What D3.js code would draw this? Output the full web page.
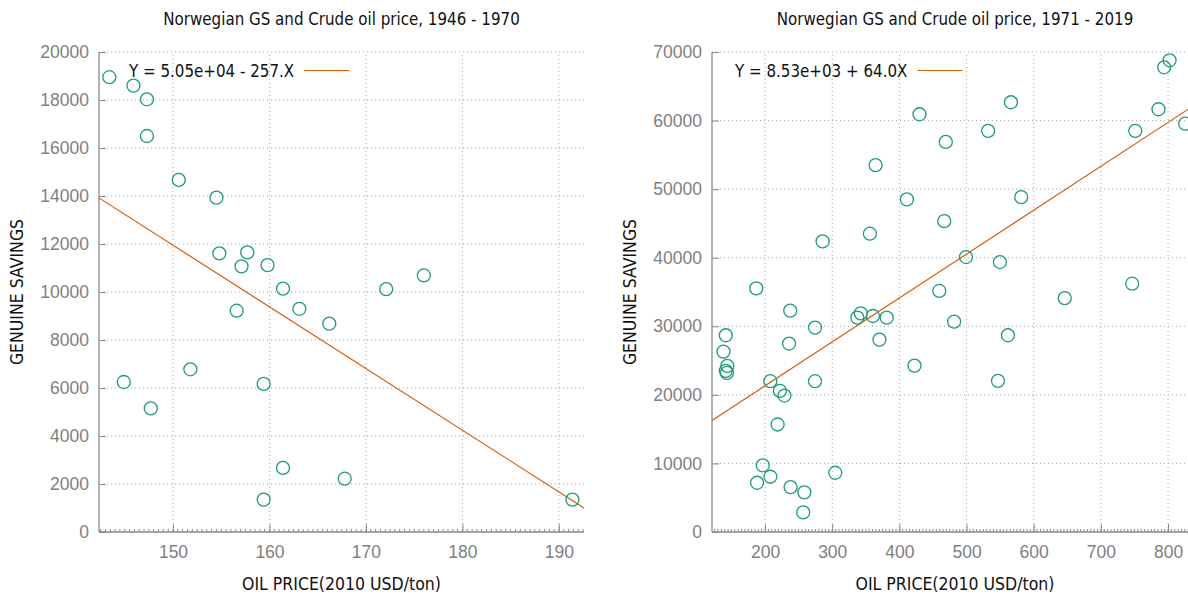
<!DOCTYPE html>
<html>
<head>
<meta charset="utf-8">
<script src="https://cdn.jsdelivr.net/npm/d3@7"></script>
<style>
  body { margin: 0; background: #fff; }
  svg { display: block; font-family: "DejaVu Sans", sans-serif; font-stretch: condensed; }
</style>
</head>
<body>
<svg id="chart" width="1188" height="596"></svg>
<script>
// 1946 - 1970: oil price (2010 USD/ton) vs genuine savings
const oilEarly = [143.4, 145.9, 147.3, 147.3, 150.6, 154.5, 154.8, 157.7, 157.1, 159.8, 161.4, 172.1,
  176.0, 156.6, 163.1, 166.2, 144.9, 147.7, 151.8, 159.4, 161.4, 167.8, 159.4, 191.4];
const gsEarly = [18950, 18600, 18030, 16500, 14670, 13930, 11610, 11650, 11070, 11120, 10140, 10120,
  10690, 9220, 9300, 8680, 6250, 5150, 6780, 6170, 2670, 2220, 1350, 1350];

// 1971 - 2019
const oilLate = [802.3, 794.3, 785.8, 825.5, 751.2, 566.1, 429.9, 532.1, 469.1, 364.6, 411.2, 581.4,
  466.8, 356.1, 285.7, 499.1, 549.7, 186.9, 459.4, 746.6, 646.2, 237.5, 274.4, 342.5, 337.4,
  360.6, 381.1, 370.3, 481.5, 561.6, 422.5, 546.8, 274.4, 235.8, 141.5, 138.1, 143.8, 141.5,
  143.2, 207.9, 222.1, 228.9, 218.7, 196.6, 207.9, 188.1, 238.0, 258.5, 256.8, 304.5];
const gsLate = [68790, 67770, 61650, 59560, 58500, 62670, 60920, 58500, 56890, 53500, 48500, 48830,
  45340, 43500, 42380, 40100, 39370, 35530, 35150, 36210, 34100, 32280, 29810, 31890, 31260,
  31500, 31260, 28060, 30680, 28690, 24270, 22040, 21990, 27480, 28690, 26310, 24220, 23500,
  23200, 21990, 20580, 19900, 15680, 9710, 8060, 7180, 6550, 5780, 2860, 8640];

const fitEarly = { a: 5.05e4, b: -257, label: 'Y = 5.05e+04 - 257.X' };
const fitLate = { a: 8.53e3, b: 64.0, label: 'Y = 8.53e+03 + 64.0X' };

const titles = ['Norwegian GS and Crude oil price, 1946 - 1970', 'Norwegian GS and Crude oil price, 1971 - 2019'];
const xLabel = 'OIL PRICE(2010 USD/ton)';
const yLabel = 'GENUINE SAVINGS';

const green = '#1b9e77', orange = '#d95f02', axisGrey = '#8a8a8a';
const svg = d3.select('#chart');

function panel(opts) {
  const { left, right, top, bottom, xDomain, yDomain, xTicks, yTicks, xs, ys, fit, title, legendX } = opts;
  const x = d3.scaleLinear().domain(xDomain).range([left, right]);
  const y = d3.scaleLinear().domain(yDomain).range([bottom, top]);
  const g = svg.append('g');

  // grid
  g.append('g').selectAll('line').data(yTicks.filter(v => v !== yDomain[0]))
    .join('line')
    .attr('x1', left).attr('x2', right)
    .attr('y1', d => y(d)).attr('y2', d => y(d))
    .attr('stroke', '#a8a8a8').attr('stroke-dasharray', '1,3');
  g.append('g').selectAll('line').data(xTicks)
    .join('line')
    .attr('x1', d => x(d)).attr('x2', d => x(d))
    .attr('y1', bottom).attr('y2', top)
    .attr('stroke', '#a8a8a8').attr('stroke-dasharray', '1,3');

  // minor x ticks, 20 per major step
  const step = xTicks[1] - xTicks[0];
  const minor = d3.range(Math.ceil(xDomain[0] / (step / 20)), Math.floor(xDomain[1] / (step / 20)) + 1)
    .map(i => i * step / 20);
  g.append('g').selectAll('line').data(minor)
    .join('line')
    .attr('x1', d => x(d)).attr('x2', d => x(d))
    .attr('y1', bottom).attr('y2', bottom - 3)
    .attr('stroke', axisGrey);

  // axes
  const yAxis = d3.axisLeft(y).tickValues(yTicks).tickSize(-7).tickPadding(10).tickFormat(d3.format('d'));
  const ya = g.append('g').attr('transform', `translate(${left},0)`).call(yAxis);
  const xAxis = d3.axisBottom(x).tickValues(xTicks).tickSize(-8).tickPadding(14).tickFormat(d3.format('d'));
  const xa = g.append('g').attr('transform', `translate(0,${bottom})`).call(xAxis);
  [ya, xa].forEach(a => {
    a.select('.domain').attr('stroke', axisGrey).attr('stroke-width', 1.3);
    a.selectAll('.tick line').attr('stroke', axisGrey);
    a.selectAll('.tick text').attr('fill', '#808080').style('font-size', '17.5px').style('font-family', null);
  });
  ya.select('.domain').attr('d', `M0,${bottom}V${top}`);
  xa.select('.domain').attr('d', `M${left},0H${right}`);

  // fit line
  const clipId = 'clip' + left;
  g.append('clipPath').attr('id', clipId).append('rect')
    .attr('x', left).attr('y', top).attr('width', right - left).attr('height', bottom - top);
  g.append('line')
    .attr('clip-path', `url(#${clipId})`)
    .attr('x1', x(xDomain[0])).attr('y1', y(fit.a + fit.b * xDomain[0]))
    .attr('x2', x(xDomain[1])).attr('y2', y(fit.a + fit.b * xDomain[1]))
    .attr('stroke', orange).attr('stroke-width', 1.2);

  // points
  g.append('g').selectAll('circle').data(xs)
    .join('circle')
    .attr('cx', d => x(d)).attr('cy', (d, i) => y(ys[i]))
    .attr('r', 6.5).attr('fill', 'none').attr('stroke', green).attr('stroke-width', 1.3);

  // legend
  const lt = g.append('text').attr('x', legendX).attr('y', 77)
    .style('font-size', '16.8px').attr('fill', '#111').text(fit.label);
  const tw = lt.node().getComputedTextLength();
  g.append('line').attr('x1', legendX + tw + 10).attr('x2', legendX + tw + 55)
    .attr('y1', 70.5).attr('y2', 70.5).attr('stroke', orange).attr('stroke-width', 1.2);

  // titles
  const cx = (left + right) / 2;
  g.append('text').attr('x', cx).attr('y', 25).attr('text-anchor', 'middle')
    .style('font-size', '16.8px').attr('fill', '#111').text(title);
  g.append('text').attr('x', cx).attr('y', 590).attr('text-anchor', 'middle')
    .style('font-size', '17.5px').attr('fill', '#111').text(xLabel);
  const ly = (top + bottom) / 2;
  g.append('text').attr('transform', `translate(${left - 76},${ly}) rotate(-90)`)
    .attr('text-anchor', 'middle').style('font-size', '17.5px').attr('fill', '#111').text(yLabel);
}

panel({
  left: 99, right: 584, top: 52, bottom: 532,
  xDomain: [142.33, 192.6], yDomain: [0, 20000],
  xTicks: [150, 160, 170, 180, 190], yTicks: d3.range(0, 20001, 2000),
  xs: oilEarly, ys: gsEarly, fit: fitEarly, title: titles[0], legendX: 129
});
panel({
  left: 712, right: 1198, top: 52, bottom: 532,
  xDomain: [121, 844.6], yDomain: [0, 70000],
  xTicks: [200, 300, 400, 500, 600, 700, 800], yTicks: d3.range(0, 70001, 10000),
  xs: oilLate, ys: gsLate, fit: fitLate, title: titles[1], legendX: 735
});
</script>
</body>
</html>
